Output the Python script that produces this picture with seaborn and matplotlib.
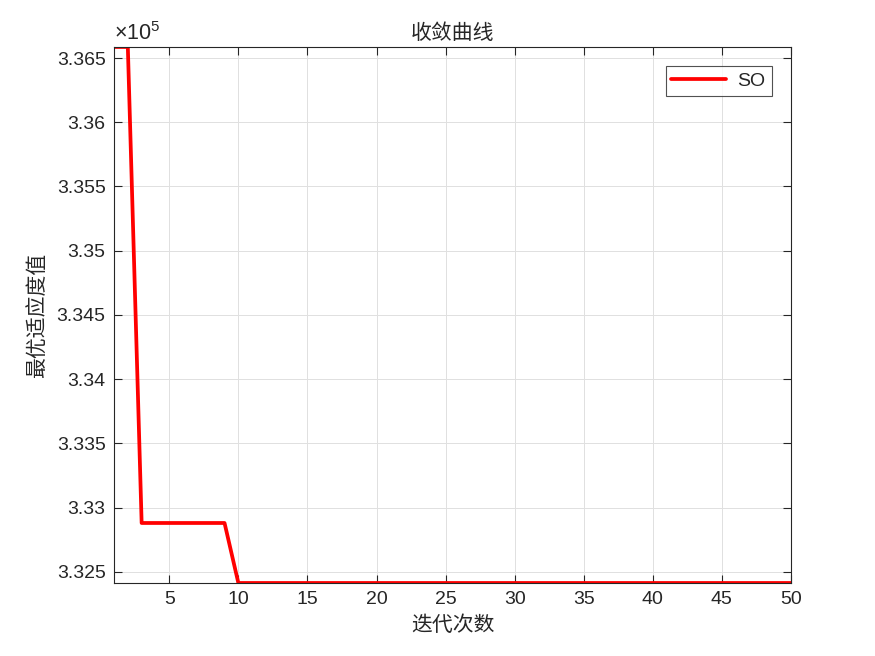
import matplotlib
matplotlib.use("Agg")
import matplotlib.pyplot as plt
from matplotlib.ticker import FuncFormatter
import seaborn as sns
import pandas as pd

# Convergence data (best fitness per iteration)
iterations = list(range(1, 51))
best_fitness = [
    336586, 336586, 332881, 332881, 332881, 332881, 332881, 332881, 332881, 332414,
    332414, 332414, 332414, 332414, 332414, 332414, 332414, 332414, 332414, 332414,
    332414, 332414, 332414, 332414, 332414, 332414, 332414, 332414, 332414, 332414,
    332414, 332414, 332414, 332414, 332414, 332414, 332414, 332414, 332414, 332414,
    332414, 332414, 332414, 332414, 332414, 332414, 332414, 332414, 332414, 332414,
]
x_ticks = [5, 10, 15, 20, 25, 30, 35, 40, 45, 50]
y_ticks = [332500, 333000, 333500, 334000, 334500, 335000, 335500, 336000, 336500]

df = pd.DataFrame({"iter": iterations, "fitness": best_fitness, "algo": "SO"})

sns.set_style("ticks")
plt.rcParams["font.family"] = ["Liberation Sans", "DejaVu Sans"]
plt.rcParams["mathtext.fontset"] = "custom"
plt.rcParams["mathtext.rm"] = "Liberation Sans"
cjk = ["Noto Sans CJK SC", "DejaVu Sans"]
dark = "#262626"

fig = plt.figure(figsize=(8.75, 6.56), dpi=100)
ax = fig.add_axes([0.1303, 0.1113, 0.7737, 0.8171])

sns.lineplot(data=df, x="iter", y="fitness", hue="algo", palette={"SO": "red"},
             linewidth=2.7, ax=ax)

ax.set_xlim(1, 50)
ax.set_ylim(min(best_fitness), max(best_fitness))
ax.set_xticks(x_ticks)
ax.set_yticks(y_ticks)
ax.yaxis.set_major_formatter(FuncFormatter(lambda v, p: "%g" % round(v / 1e5, 6)))
ax.text(0.0, 1.003, r"$\times10^{5}$", transform=ax.transAxes, fontsize=15.5,
        color=dark, ha="left", va="bottom")
ax.tick_params(direction="in", top=True, right=True, labelsize=14, length=6,
               width=0.8, colors=dark, pad=6)
ax.grid(True, color="#e0e0e0", linewidth=0.7)
for s in ax.spines.values():
    s.set_color(dark)
    s.set_linewidth(0.8)

ax.set_title("收敛曲线", family=cjk, fontsize=15, color=dark, pad=6)
ax.set_xlabel("迭代次数", family=cjk, fontsize=15, color=dark, labelpad=4)
ax.set_ylabel("最优适应度值", family=cjk, fontsize=15, color=dark, labelpad=6)

leg = ax.legend(loc="upper right", fontsize=14, frameon=True, fancybox=False,
                edgecolor=dark, handlelength=2.8, borderaxespad=1.0,
                borderpad=0.3, handletextpad=0.6)
leg.get_frame().set_linewidth(0.8)

plt.savefig("out.png", dpi=100)
plt.close()
